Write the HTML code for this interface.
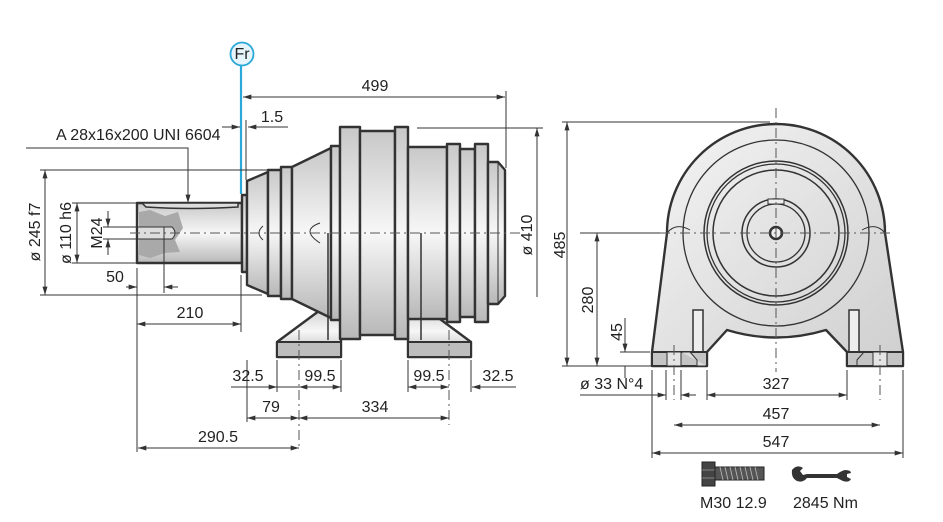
<!DOCTYPE html>
<html><head><meta charset="utf-8"><style>
html,body{margin:0;padding:0;background:#fff;}
svg{display:block;font-family:"Liberation Sans",Arial,sans-serif;}
.t{font-size:16px;fill:#222;}
.d{stroke:#333;stroke-width:1;fill:none;}
.b{stroke:#333;stroke-width:2.4;stroke-linejoin:round;}
.c{stroke:#555;stroke-width:1;stroke-dasharray:10 4 2 4;fill:none;}
</style></head><body>
<svg width="943" height="522" viewBox="0 0 943 522">
<defs>
<linearGradient id="g" x1="0" y1="0" x2="0" y2="1">
<stop offset="0" stop-color="#c8c8c8"/><stop offset="0.5" stop-color="#f7f7f7"/><stop offset="1" stop-color="#b8b8b8"/></linearGradient>
<linearGradient id="g2" x1="0" y1="0" x2="1" y2="1">
<stop offset="0" stop-color="#f4f4f4"/><stop offset="1" stop-color="#cfcfcf"/></linearGradient>
<marker id="a" viewBox="0 0 10 6" refX="10" refY="3" markerWidth="9" markerHeight="5" orient="auto-start-reverse"><path d="M0,0 L10,3 L0,6 z" fill="#333"/></marker>
</defs>

<!-- ========== LEFT VIEW ========== -->
<polygon class="b" fill="url(#g)" points="277,357 277,342 327,305 341,305 341,357"/>
<polygon class="b" fill="url(#g)" points="408,357 408,305 421,305 471,342 471,357"/>
<rect x="277" y="342" width="64" height="15" fill="#bdbdbd" stroke="#333" stroke-width="2"/>
<rect x="408" y="342" width="63" height="15" fill="#bdbdbd" stroke="#333" stroke-width="2"/>
<line x1="290" y1="342" x2="322" y2="342" stroke="#333" stroke-width="1.5"/>
<line x1="424" y1="342" x2="456" y2="342" stroke="#333" stroke-width="1.5"/>
<rect x="137" y="203" width="105" height="60" class="b" fill="url(#g)"/>
<path d="M142,203 L238,203 L238,207 Q190,210 146,207 Z" fill="#ddd" stroke="#333" stroke-width="1.5"/>
<path d="M139,212 L150,210 L165,216 L178,212 L183,228 L175,240 L180,252 L165,253 L150,258 L139,255 Z" fill="#a9a9a9"/>
<path d="M139,227 L172,227 Q178,233 172,239 L139,239" fill="#ddd" stroke="#333" stroke-width="1"/>
<rect x="242" y="195" width="5" height="77" class="b" fill="url(#g)"/>
<polygon class="b" fill="url(#g)" points="247,181 268,172 268,294 247,285"/>
<rect x="268" y="170" width="13" height="126" class="b" fill="url(#g)"/>
<rect x="281" y="167" width="11" height="132" class="b" fill="url(#g)"/>
<polygon class="b" fill="url(#g)" points="292,167 331,148 331,318 292,299"/>
<rect x="331" y="146" width="9" height="174" class="b" fill="url(#g)"/>
<rect x="340" y="127" width="20" height="212" class="b" fill="url(#g)"/>
<rect x="360" y="131" width="35" height="204" class="b" fill="url(#g)"/>
<rect x="395" y="127" width="13" height="212" class="b" fill="url(#g)"/>
<rect x="408" y="147" width="39" height="172" class="b" fill="url(#g)"/>
<rect x="447" y="144" width="13" height="178" class="b" fill="url(#g)"/>
<rect x="460" y="149" width="15" height="168" class="b" fill="url(#g)"/>
<rect x="475" y="144" width="13" height="178" class="b" fill="url(#g)"/>
<polygon class="b" fill="url(#g)" points="488,162 498,162 505,170 505,296 498,304 488,304"/>
<line x1="498" y1="162" x2="498" y2="304" stroke="#333" stroke-width="1"/>
<line x1="328" y1="233" x2="328" y2="340" stroke="#333" stroke-width="1.5"/>
<line x1="421" y1="233" x2="421" y2="340" stroke="#333" stroke-width="1.5"/>
<path d="M263,226 Q255,233 263,240" class="d" stroke-width="1.5"/>
<path d="M320,223 Q300,230 320,243" class="d" stroke-width="1.5"/>
<line x1="130" y1="233" x2="520" y2="233" class="c"/>
<line x1="299" y1="330" x2="299" y2="450" class="c"/>
<line x1="449" y1="330" x2="449" y2="425" class="c"/>

<line x1="241" y1="66" x2="241" y2="194" stroke="#2aa8d8" stroke-width="2.2"/>
<circle cx="242" cy="54" r="11.5" fill="#e6f5fb" stroke="#2aa8d8" stroke-width="1.8"/>
<text x="242" y="59" class="t" text-anchor="middle" font-size="14">Fr</text>

<line x1="243" y1="97" x2="505" y2="97" class="d" marker-start="url(#a)" marker-end="url(#a)"/>
<line x1="506" y1="91" x2="506" y2="168" class="d"/>
<text x="375" y="91" class="t" text-anchor="middle">499</text>
<line x1="222" y1="127" x2="240" y2="127" class="d" marker-end="url(#a)"/>
<line x1="288" y1="127" x2="248" y2="127" class="d" marker-end="url(#a)"/>
<line x1="246" y1="120" x2="246" y2="180" class="d"/>
<text x="272" y="122" class="t" text-anchor="middle">1.5</text>
<text x="56" y="140" class="t" font-size="15">A 28x16x200 UNI 6604</text>
<polyline points="26,148 188,148 188,203" class="d" marker-end="url(#a)"/>
<line x1="40" y1="170" x2="270" y2="170" class="d"/>
<line x1="40" y1="295" x2="262" y2="295" class="d"/>
<line x1="45" y1="170" x2="45" y2="295" class="d" marker-start="url(#a)" marker-end="url(#a)"/>
<text transform="translate(40,232) rotate(-90)" class="t" text-anchor="middle">ø 245 f7</text>
<line x1="72" y1="203" x2="137" y2="203" class="d"/>
<line x1="72" y1="263" x2="137" y2="263" class="d"/>
<line x1="77" y1="203" x2="77" y2="263" class="d" marker-start="url(#a)" marker-end="url(#a)"/>
<text transform="translate(71,233) rotate(-90)" class="t" text-anchor="middle">ø 110 h6</text>
<line x1="103" y1="227" x2="139" y2="227" class="d"/>
<line x1="103" y1="239" x2="139" y2="239" class="d"/>
<line x1="108" y1="211" x2="108" y2="227" class="d" marker-end="url(#a)"/>
<line x1="108" y1="255" x2="108" y2="239" class="d" marker-end="url(#a)"/>
<text transform="translate(102,233) rotate(-90)" class="t" text-anchor="middle">M24</text>
<line x1="164" y1="227" x2="164" y2="293" class="d"/>
<line x1="126" y1="287" x2="137" y2="287" class="d" marker-end="url(#a)"/>
<line x1="178" y1="287" x2="164" y2="287" class="d" marker-end="url(#a)"/>
<text x="115" y="282" class="t" text-anchor="middle">50</text>
<line x1="137" y1="268" x2="137" y2="452" class="d"/>
<line x1="241" y1="275" x2="241" y2="332" class="d"/>
<line x1="137" y1="324" x2="241" y2="324" class="d" marker-start="url(#a)" marker-end="url(#a)"/>
<text x="190" y="318" class="t" text-anchor="middle">210</text>
<line x1="417" y1="128" x2="543" y2="128" class="d"/>
<line x1="537" y1="128" x2="537" y2="297" class="d" marker-start="url(#a)"/>
<text transform="translate(532,235) rotate(-90)" class="t" text-anchor="middle">ø 410</text>
<line x1="247" y1="360" x2="247" y2="422" class="d"/>
<line x1="277" y1="360" x2="277" y2="392" class="d"/>
<line x1="341" y1="360" x2="341" y2="392" class="d"/>
<line x1="408" y1="360" x2="408" y2="392" class="d"/>
<line x1="471" y1="360" x2="471" y2="392" class="d"/>
<line x1="231" y1="387" x2="277" y2="387" class="d" marker-end="url(#a)"/>
<line x1="277" y1="387" x2="299" y2="387" class="d"/>
<line x1="299" y1="387" x2="341" y2="387" class="d" marker-start="url(#a)" marker-end="url(#a)"/>
<line x1="408" y1="387" x2="449" y2="387" class="d" marker-start="url(#a)" marker-end="url(#a)"/>
<line x1="516" y1="387" x2="472" y2="387" class="d" marker-end="url(#a)"/>
<text x="248" y="381" class="t" text-anchor="middle">32.5</text>
<text x="320" y="381" class="t" text-anchor="middle">99.5</text>
<text x="429" y="381" class="t" text-anchor="middle">99.5</text>
<text x="498" y="381" class="t" text-anchor="middle">32.5</text>
<line x1="247" y1="418" x2="299" y2="418" class="d" marker-start="url(#a)" marker-end="url(#a)"/>
<line x1="299" y1="418" x2="449" y2="418" class="d" marker-start="url(#a)" marker-end="url(#a)"/>
<text x="271" y="412" class="t" text-anchor="middle">79</text>
<text x="375" y="412" class="t" text-anchor="middle">334</text>
<line x1="138" y1="448" x2="299" y2="448" class="d" marker-start="url(#a)" marker-end="url(#a)"/>
<text x="218" y="442" class="t" text-anchor="middle">290.5</text>

<!-- ========== RIGHT VIEW ========== -->
<path class="b" fill="url(#g2)" d="M652,366 L652,352 L667,233 A109,109 0 0 1 885,233 L903,352 L903,366 L847,366 L847,352 L826,330 Q776,345 727,330 L707,352 L707,366 Z"/>
<path d="M667,233 Q676,222 690,230 M885,233 Q876,222 862,230" class="d" stroke-width="1.3"/>
<circle cx="776" cy="233" r="93" fill="none" stroke="#333" stroke-width="1.3"/>
<circle cx="776" cy="233" r="72" fill="none" stroke="#333" stroke-width="1.5"/>
<circle cx="776" cy="233" r="69" fill="none" stroke="#333" stroke-width="1.3"/>
<circle cx="776" cy="233" r="63" fill="none" stroke="#333" stroke-width="1.5"/>
<circle cx="776" cy="233" r="34" fill="none" stroke="#333" stroke-width="1.5"/>
<circle cx="776" cy="233" r="29" fill="none" stroke="#333" stroke-width="1.3"/>
<rect x="768" y="199" width="16" height="5" fill="#eee" stroke="#333" stroke-width="1"/>
<circle cx="776" cy="233" r="6" fill="#eee" stroke="#333" stroke-width="2.5"/>
<rect x="693" y="310" width="10" height="42" fill="#eee" stroke="#333" stroke-width="1.5"/>
<rect x="849" y="310" width="10" height="42" fill="#eee" stroke="#333" stroke-width="1.5"/>
<rect x="652" y="352" width="55" height="14" fill="#c4c4c4" stroke="#333" stroke-width="2"/>
<rect x="847" y="352" width="56" height="14" fill="#c4c4c4" stroke="#333" stroke-width="2"/>
<rect x="667" y="352" width="14" height="14" fill="#e4e4e4" stroke="#333" stroke-width="1"/>
<rect x="873" y="352" width="14" height="14" fill="#e4e4e4" stroke="#333" stroke-width="1"/>
<path d="M681,352 L690,352 L697,360 L697,366 L707,366" fill="#ddd" stroke="#333" stroke-width="1"/>
<path d="M873,352 L864,352 L857,360 L857,366" fill="none" stroke="#333" stroke-width="1"/>
<line x1="776" y1="108" x2="776" y2="372" class="c"/>
<line x1="660" y1="233" x2="892" y2="233" class="c"/>
<line x1="674" y1="345" x2="674" y2="400" class="c"/>
<line x1="880" y1="345" x2="880" y2="400" class="c"/>
<line x1="562" y1="122" x2="770" y2="122" class="d"/>
<line x1="562" y1="366" x2="652" y2="366" class="d"/>
<line x1="567" y1="122" x2="567" y2="366" class="d" marker-start="url(#a)" marker-end="url(#a)"/>
<text transform="translate(565,245) rotate(-90)" class="t" text-anchor="middle">485</text>
<line x1="580" y1="233" x2="660" y2="233" class="d"/>
<line x1="597" y1="233" x2="597" y2="366" class="d" marker-start="url(#a)" marker-end="url(#a)"/>
<text transform="translate(593,300) rotate(-90)" class="t" text-anchor="middle">280</text>
<line x1="620" y1="352" x2="650" y2="352" class="d"/>
<line x1="625" y1="318" x2="625" y2="352" class="d" marker-end="url(#a)"/>
<line x1="625" y1="366" x2="625" y2="378" class="d"/>
<text transform="translate(622,332) rotate(-90)" class="t" text-anchor="middle">45</text>
<line x1="652" y1="370" x2="652" y2="458" class="d"/>
<line x1="666" y1="370" x2="666" y2="400" class="d"/>
<line x1="681" y1="370" x2="681" y2="400" class="d"/>
<line x1="707" y1="370" x2="707" y2="400" class="d"/>
<line x1="847" y1="370" x2="847" y2="400" class="d"/>
<line x1="903" y1="370" x2="903" y2="458" class="d"/>
<line x1="580" y1="395" x2="666" y2="395" class="d" marker-end="url(#a)"/>
<line x1="696" y1="395" x2="681" y2="395" class="d" marker-end="url(#a)"/>
<text x="580" y="389" class="t">ø 33 N°4</text>
<line x1="707" y1="395" x2="847" y2="395" class="d" marker-start="url(#a)" marker-end="url(#a)"/>
<text x="776" y="389" class="t" text-anchor="middle">327</text>
<line x1="674" y1="425" x2="880" y2="425" class="d" marker-start="url(#a)" marker-end="url(#a)"/>
<text x="776" y="419" class="t" text-anchor="middle">457</text>
<line x1="652" y1="453" x2="903" y2="453" class="d" marker-start="url(#a)" marker-end="url(#a)"/>
<text x="776" y="447" class="t" text-anchor="middle">547</text>
<rect x="702" y="462" width="13" height="24" fill="#444" stroke="#222" stroke-width="1"/>
<line x1="702" y1="470" x2="715" y2="470" stroke="#888" stroke-width="1"/>
<line x1="702" y1="478" x2="715" y2="478" stroke="#888" stroke-width="1"/>
<rect x="715" y="467" width="49" height="13" fill="#555" stroke="#222" stroke-width="1"/>
<path d="M720,467 l3,13 M725,467 l3,13 M730,467 l3,13 M735,467 l3,13 M740,467 l3,13 M745,467 l3,13 M750,467 l3,13 M755,467 l3,13" stroke="#bbb" stroke-width="0.8"/>
<path d="M792,470 q5,-6 11,-2 l-3,3 l3,4 l4,-1 l30,0 q4,-3 8,-4 q6,0 6,3 l-4,1 l0,3 l4,2 q-2,4 -8,2 q-4,-2 -6,-3 l-30,0 q-4,5 -10,3 q-6,-3 -5,-11 z" fill="#333"/>
<text x="700" y="508" class="t">M30  12.9</text>
<text x="793" y="508" class="t">2845 Nm</text>
</svg>
</body></html>
